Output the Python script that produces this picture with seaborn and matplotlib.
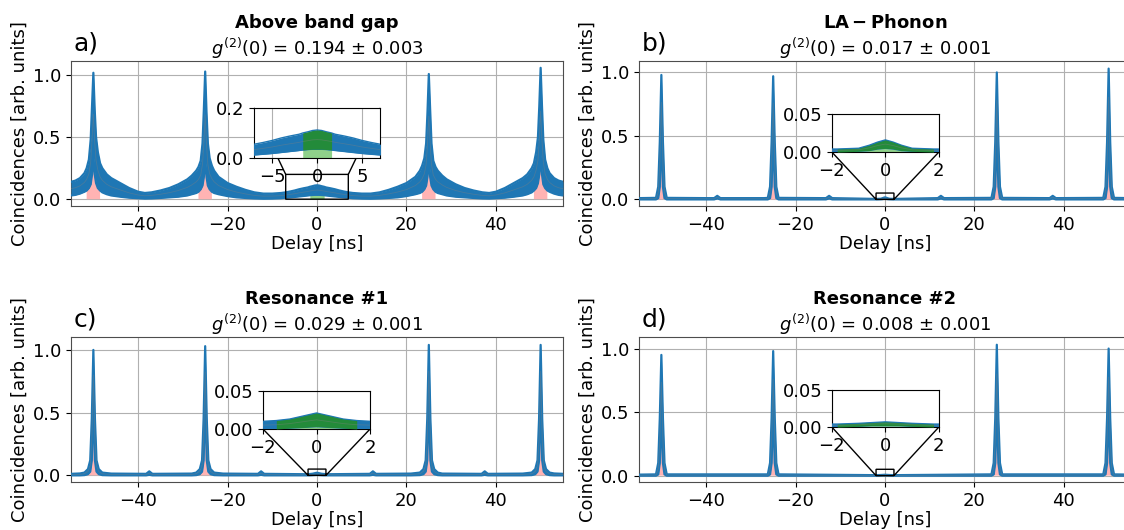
import numpy as np
import matplotlib
matplotlib.use("Agg")
import matplotlib.pyplot as plt
import seaborn as sns

plt.rcParams["font.size"] = 13
plt.rcParams["font.family"] = ["DejaVu Sans"]

BLUE = "#1f77b4"
PINK = "#ffb3b3"
GREEN_DARK = "#238b3a"
GREEN_LIGHT = "#8fd18a"

# --- panel a: Above band gap (delay, lower / upper edge of the point cloud)
a_delay = [-55, -54, -53, -52, -51.5, -51, -50.6, -50.3, -50, -49.7, -49.4, -49, -48.5, -48, -47, -46,
           -44, -42, -40, -38.5, -37, -35, -33, -31, -29, -28, -27, -26.5, -26, -25.6, -25.3, -25,
           -24.7, -24.4, -24, -23.5, -23, -22, -20, -18, -16, -14, -12, -10, -8, -7, -6, -5, -4, -3,
           -2, -1.6, -1, -0.5, 0, 0.5, 1, 1.6, 2, 3, 4, 5, 6, 7, 8, 10, 12, 14, 16, 18, 20, 22, 23,
           23.5, 24, 24.4, 24.7, 25, 25.3, 25.6, 26, 26.5, 27, 28, 29, 31, 33, 35, 37, 38.5, 40, 42,
           44, 46, 47, 48, 48.5, 49, 49.4, 49.7, 50, 50.3, 50.6, 51, 51.5, 52, 53, 54, 55]
a_low = [0.03, 0.035, 0.045, 0.06, 0.07, 0.09, 0.12, 0.2, 0.35, 0.2, 0.13, 0.09, 0.07, 0.055, 0.04, 0.03,
         0.02, 0.012, 0.008, 0.005, 0.006, 0.01, 0.015, 0.02, 0.03, 0.04, 0.05, 0.06, 0.08, 0.11, 0.18, 0.33,
         0.18, 0.11, 0.08, 0.06, 0.05, 0.04, 0.025, 0.015, 0.01, 0.006, 0.004, 0.005, 0.008, 0.012, 0.015, 0.018, 0.022, 0.026,
         0.03, 0.032, 0.034, 0.035, 0.035, 0.035, 0.034, 0.032, 0.03, 0.026, 0.022, 0.018, 0.015, 0.012, 0.008, 0.005, 0.004, 0.006, 0.01, 0.015, 0.025, 0.04, 0.05,
         0.06, 0.08, 0.11, 0.18, 0.33, 0.18, 0.11, 0.08, 0.06, 0.05, 0.04, 0.03, 0.02, 0.015, 0.01, 0.006, 0.005, 0.008, 0.012,
         0.02, 0.03, 0.04, 0.055, 0.07, 0.09, 0.13, 0.2, 0.36, 0.2, 0.12, 0.09, 0.07, 0.06, 0.045, 0.035, 0.03]
a_high = [0.14, 0.15, 0.17, 0.21, 0.25, 0.32, 0.48, 0.75, 1.02, 0.72, 0.5, 0.38, 0.29, 0.25, 0.2, 0.17,
          0.13, 0.09, 0.06, 0.05, 0.055, 0.07, 0.09, 0.12, 0.16, 0.19, 0.23, 0.26, 0.31, 0.45, 0.72, 1.03,
          0.7, 0.45, 0.33, 0.27, 0.23, 0.18, 0.13, 0.1, 0.075, 0.055, 0.045, 0.045, 0.05, 0.055, 0.062, 0.07, 0.08, 0.088,
          0.095, 0.1, 0.105, 0.11, 0.112, 0.11, 0.105, 0.1, 0.095, 0.088, 0.08, 0.07, 0.062, 0.055, 0.05, 0.045, 0.045, 0.055, 0.075, 0.1, 0.13, 0.18, 0.23,
          0.27, 0.33, 0.45, 0.7, 1.01, 0.72, 0.45, 0.31, 0.26, 0.23, 0.19, 0.16, 0.12, 0.09, 0.07, 0.055, 0.05, 0.06, 0.09,
          0.13, 0.17, 0.2, 0.25, 0.29, 0.38, 0.5, 0.75, 1.06, 0.75, 0.48, 0.32, 0.25, 0.21, 0.17, 0.15, 0.14]

# --- panel b: LA-Phonon
b_delay = [-55, -51.2, -50.7, -50.35, -50, -49.65, -49.3, -48.8, -40, -38.2, -37.5, -36.8, -27,
           -26.2, -25.7, -25.35, -25, -24.65, -24.3, -23.8, -14, -13.2, -12.5, -11.8, -2.5, -1.8,
           -1, -0.6, -0.3, 0, 0.3, 0.6, 1, 1.8, 2.5, 11.8, 12.5, 13.2, 23.8, 24.3, 24.65, 25, 25.35,
           25.7, 26.2, 36.8, 37.5, 38.2, 48.8, 49.3, 49.65, 50, 50.35, 50.7, 51.2, 55]
b_low = [0, 0, 0.01, 0.1, 0.55, 0.1, 0.01, 0, 0, 0, 0.008, 0, 0,
         0, 0.01, 0.1, 0.55, 0.1, 0.01, 0, 0, 0, 0.008, 0, 0, 0,
         0.001, 0.002, 0.004, 0.005, 0.004, 0.002, 0.001, 0, 0, 0, 0.008, 0, 0, 0.01, 0.1, 0.56, 0.1,
         0.01, 0, 0, 0.008, 0, 0, 0.01, 0.1, 0.58, 0.1, 0.01, 0, 0]
b_high = [0.01, 0.012, 0.1, 0.45, 0.98, 0.45, 0.1, 0.012, 0.01, 0.01, 0.028, 0.01, 0.01,
          0.012, 0.1, 0.45, 0.97, 0.45, 0.1, 0.012, 0.01, 0.01, 0.028, 0.01, 0.004, 0.004,
          0.005, 0.009, 0.013, 0.016, 0.013, 0.009, 0.005, 0.004, 0.004, 0.01, 0.028, 0.01, 0.012, 0.1, 0.45, 1.0, 0.45,
          0.1, 0.012, 0.01, 0.028, 0.01, 0.012, 0.1, 0.45, 1.03, 0.45, 0.1, 0.012, 0.01]

# --- panel c: Resonance #1
c_delay = [-55, -53, -52, -51.2, -50.7, -50.35, -50, -49.65, -49.3, -48.8, -48, -46, -38.2, -37.5, -36.8,
           -28, -27, -26.2, -25.7, -25.35, -25, -24.65, -24.3, -23.8, -23, -21, -13.2, -12.5, -11.8,
           -2.5, -2, -1.5, -1, -0.5, 0, 0.5, 1, 1.5, 2, 2.5, 11.8, 12.5, 13.2, 21, 23, 23.8, 24.3,
           24.65, 25, 25.35, 25.7, 26.2, 27, 28, 36.8, 37.5, 38.2, 46, 48, 48.8, 49.3, 49.65, 50,
           50.35, 50.7, 51.2, 52, 53, 55]
c_low = [0, 0, 0.002, 0.01, 0.03, 0.12, 0.6, 0.12, 0.03, 0.01, 0.002, 0, 0, 0.004, 0,
         0, 0.002, 0.01, 0.03, 0.12, 0.62, 0.12, 0.03, 0.01, 0.002, 0, 0, 0.004, 0,
         0, 0, 0, 0.001, 0.002, 0.003, 0.002, 0.001, 0, 0, 0, 0, 0.004, 0, 0, 0.002, 0.01, 0.03,
         0.12, 0.62, 0.12, 0.03, 0.01, 0.002, 0, 0, 0.004, 0, 0, 0.002, 0.01, 0.03, 0.12, 0.62,
         0.12, 0.03, 0.01, 0.002, 0, 0]
c_high = [0.012, 0.015, 0.022, 0.05, 0.12, 0.45, 1.0, 0.45, 0.12, 0.05, 0.022, 0.014, 0.012, 0.032, 0.012,
          0.014, 0.022, 0.05, 0.12, 0.45, 1.03, 0.45, 0.12, 0.05, 0.022, 0.014, 0.012, 0.032, 0.012,
          0.009, 0.01, 0.011, 0.013, 0.017, 0.021, 0.017, 0.013, 0.011, 0.01, 0.009, 0.012, 0.032, 0.012, 0.014, 0.022, 0.05, 0.12,
          0.45, 1.04, 0.45, 0.12, 0.05, 0.022, 0.014, 0.012, 0.032, 0.012, 0.014, 0.022, 0.05, 0.12, 0.45, 1.04,
          0.45, 0.12, 0.05, 0.022, 0.015, 0.012]

# --- panel d: Resonance #2
d_delay = [-55, -51.2, -50.7, -50.35, -50, -49.65, -49.3, -48.8, -26.2, -25.7, -25.35, -25, -24.65,
           -24.3, -23.8, -2.5, -1.8, -1, -0.5, 0, 0.5, 1, 1.8, 2.5, 23.8, 24.3, 24.65, 25, 25.35, 25.7,
           26.2, 48.8, 49.3, 49.65, 50, 50.35, 50.7, 51.2, 55]
d_low = [0, 0, 0.01, 0.1, 0.52, 0.1, 0.01, 0, 0, 0.01, 0.1, 0.54, 0.1,
         0.01, 0, 0, 0, 0.001, 0.002, 0.002, 0.002, 0.001, 0, 0, 0, 0.01, 0.1, 0.57, 0.1, 0.01,
         0, 0, 0.01, 0.1, 0.55, 0.1, 0.01, 0, 0]
d_high = [0.008, 0.01, 0.1, 0.45, 0.95, 0.45, 0.1, 0.01, 0.01, 0.1, 0.45, 0.98, 0.45,
          0.1, 0.01, 0.004, 0.004, 0.005, 0.006, 0.007, 0.006, 0.005, 0.004, 0.004, 0.01, 0.1, 0.45, 1.03, 0.45, 0.1,
          0.01, 0.01, 0.1, 0.45, 1.0, 0.45, 0.1, 0.01, 0.008]

titles = ["Above band gap", r"$\bf{LA-Phonon}$", "Resonance #1", "Resonance #2"]
g2_values = ["0.194 ± 0.003", "0.017 ± 0.001", "0.029 ± 0.001", "0.008 ± 0.001"]
letters = ["a)", "b)", "c)", "d)"]
side_peaks = [-50, -25, 25, 50]
side_window = [1.5, 1.2, 1.2, 1.2]
center_window = [1.6, 1.8, 1.5, 1.8]
inset_xlim = [(-7, 7), (-2, 2), (-2, 2), (-2, 2)]
inset_ylim = [(0, 0.2), (0, 0.05), (0, 0.05), (0, 0.05)]
inset_xticks = [[-5, 0, 5], [-2, 0, 2], [-2, 0, 2], [-2, 0, 2]]
main_ylim = [(-0.055, 1.115), (-0.052, 1.09), (-0.053, 1.103), (-0.05, 1.091)]

data = [(a_delay, a_low, a_high), (b_delay, b_low, b_high),
        (c_delay, c_low, c_high), (d_delay, d_low, d_high)]

# axes positions in figure fraction (right column runs past the cropped edge)
W, H = 1124, 530
main_pos = [(71, 61), (639, 61), (71, 337), (639, 337)]
inset_pos = [[0.372, 0.331, 0.2566, 0.345], [0.392, 0.372, 0.2175, 0.262],
             [0.39, 0.366, 0.218, 0.262], [0.392, 0.379, 0.2175, 0.255]]


def draw(ax, x, lo, hi, i, inset=False):
    x = np.asarray(x, float)
    lo = np.asarray(lo, float)
    hi = np.asarray(hi, float)
    side = np.zeros(len(x), bool)
    for p in side_peaks:
        side |= np.abs(x - p) <= side_window[i] + 1e-9
    center = np.abs(x) <= center_window[i] + 1e-9
    lw = 1.0 if inset else 1.6
    ax.fill_between(x, 0, lo, where=side, color=PINK, lw=0, zorder=2)
    ax.fill_between(x, 0, lo, where=center, color=GREEN_LIGHT, lw=0, zorder=2)
    ax.fill_between(x, lo, hi, color=BLUE, lw=0, zorder=3)
    sns.lineplot(x=x, y=hi, color=BLUE, lw=lw, estimator=None, sort=False, ax=ax, zorder=3)
    sns.lineplot(x=x, y=lo, color=BLUE, lw=lw, estimator=None, sort=False, ax=ax, zorder=3)
    if inset:
        ax.fill_between(x, lo, hi, where=center, color=GREEN_DARK, lw=0, zorder=4)
    sns.lineplot(x=x, y=(lo + hi) / 2, color="grey", lw=0.6, alpha=0.4,
                 estimator=None, sort=False, ax=ax, zorder=4)


fig = plt.figure(figsize=(W / 100, H / 100), dpi=100)

for i in range(4):
    left, top = main_pos[i]
    ax = fig.add_axes([left / W, 1 - (top + 145) / H, 492 / W, 145 / H])
    x, lo, hi = data[i]
    draw(ax, x, lo, hi, i)
    ax.set_xlim(-55, 55)
    ax.set_ylim(*main_ylim[i])
    ax.set_xticks([-40, -20, 0, 20, 40])
    ax.set_yticks([0.0, 0.5, 1.0])
    ax.set_yticklabels(["0.0", "0.5", "1.0"])
    ax.grid(True, color="#b0b0b0", lw=0.8)
    ax.set_axisbelow(True)
    for s in ax.spines.values():
        s.set_color("0.3")
    ax.set_xlabel("Delay [ns]", labelpad=1)
    ax.set_ylabel("Coincidences [arb. units]", labelpad=3)
    ax.text(0.5, 1 + 38 / 145, titles[i], transform=ax.transAxes, ha="center", va="center",
            fontweight="bold", fontsize=13)
    ax.text(0.5, 1 + 13 / 145, r"$g^{(2)}(0)$ = " + g2_values[i], transform=ax.transAxes,
            ha="center", va="center", fontsize=13)
    ax.text(0.005, 1 + 18 / 145, letters[i], transform=ax.transAxes, ha="left", va="center",
            fontsize=18)

    axin = ax.inset_axes(inset_pos[i])
    draw(axin, x, lo, hi, i, inset=True)
    axin.set_xlim(*inset_xlim[i])
    axin.set_ylim(*inset_ylim[i])
    axin.set_xticks(inset_xticks[i])
    axin.set_yticks(list(inset_ylim[i]))
    if i == 0:
        axin.set_yticklabels(["0.0", "0.2"])
    else:
        axin.set_yticklabels(["0.00", "0.05"])
    axin.grid(True, color="#b0b0b0", lw=0.8)
    axin.set_axisbelow(True)
    axin.set_xlabel("")
    axin.set_ylabel("")
    ax.indicate_inset_zoom(axin, edgecolor="black", alpha=1, lw=1)

fig.savefig("out.png", dpi=100)
